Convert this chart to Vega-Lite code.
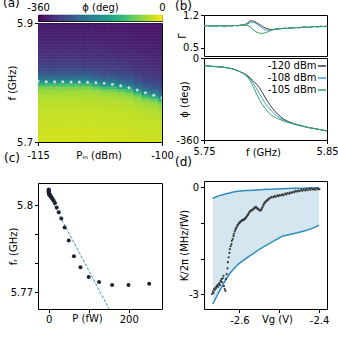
{
"$schema":"https://vega.github.io/schema/vega-lite/v6.json",
"padding":{"left":2,"top":-4,"right":0,"bottom":0},
"background":"white",
"config":{
"font":"DejaVu Sans",
"view":{"stroke":"black","strokeWidth":1},
"axis":{"labelFont":"DejaVu Sans","titleFont":"DejaVu Sans","labelFontSize":10,"titleFontSize":10,"titleFontWeight":"normal","labelColor":"black","titleColor":"black","tickColor":"black","domain":false,"grid":false,"tickSize":3.5,"tickWidth":1,"labelFlush":false,"labelOverlap":false,"labelPadding":2},
"title":{"font":"DejaVu Sans","fontSize":12,"fontWeight":"normal","anchor":"start","frame":"group","color":"black"}
},
"datasets":{
"heat":[
{"p":-115.5,"f":5.7,"v":-24},{"p":-115.5,"f":5.705,"v":-25},{"p":-115.5,"f":5.71,"v":-26},{"p":-115.5,"f":5.715,"v":-26},{"p":-115.5,"f":5.72,"v":-27},{"p":-115.5,"f":5.725,"v":-28},{"p":-115.5,"f":5.73,"v":-29},{"p":-115.5,"f":5.735,"v":-30},{"p":-115.5,"f":5.74,"v":-31},{"p":-115.5,"f":5.745,"v":-32},{"p":-115.5,"f":5.75,"v":-33},{"p":-115.5,"f":5.755,"v":-34},{"p":-115.5,"f":5.76,"v":-36},{"p":-115.5,"f":5.765,"v":-38},{"p":-115.5,"f":5.77,"v":-40},{"p":-115.5,"f":5.775,"v":-43},{"p":-115.5,"f":5.78,"v":-48},{"p":-115.5,"f":5.785,"v":-56},{"p":-115.5,"f":5.79,"v":-72},{"p":-115.5,"f":5.795,"v":-110},{"p":-115.5,"f":5.8,"v":-175},{"p":-115.5,"f":5.805,"v":-218},{"p":-115.5,"f":5.81,"v":-245},{"p":-115.5,"f":5.815,"v":-265},{"p":-115.5,"f":5.82,"v":-280},{"p":-115.5,"f":5.825,"v":-289},{"p":-115.5,"f":5.83,"v":-296},{"p":-115.5,"f":5.835,"v":-302},{"p":-115.5,"f":5.84,"v":-307},{"p":-115.5,"f":5.845,"v":-311},{"p":-115.5,"f":5.85,"v":-315},{"p":-115.5,"f":5.855,"v":-318},{"p":-115.5,"f":5.86,"v":-321},{"p":-115.5,"f":5.865,"v":-323},{"p":-115.5,"f":5.87,"v":-326},{"p":-115.5,"f":5.875,"v":-328},{"p":-115.5,"f":5.88,"v":-330},{"p":-115.5,"f":5.885,"v":-332},{"p":-115.5,"f":5.89,"v":-334},{"p":-115.5,"f":5.895,"v":-336},
{"p":-114.5,"f":5.7,"v":-24},{"p":-114.5,"f":5.705,"v":-25},{"p":-114.5,"f":5.71,"v":-26},{"p":-114.5,"f":5.715,"v":-26},{"p":-114.5,"f":5.72,"v":-27},{"p":-114.5,"f":5.725,"v":-28},{"p":-114.5,"f":5.73,"v":-29},{"p":-114.5,"f":5.735,"v":-30},{"p":-114.5,"f":5.74,"v":-31},{"p":-114.5,"f":5.745,"v":-32},{"p":-114.5,"f":5.75,"v":-33},{"p":-114.5,"f":5.755,"v":-34},{"p":-114.5,"f":5.76,"v":-36},{"p":-114.5,"f":5.765,"v":-38},{"p":-114.5,"f":5.77,"v":-40},{"p":-114.5,"f":5.775,"v":-43},{"p":-114.5,"f":5.78,"v":-48},{"p":-114.5,"f":5.785,"v":-56},{"p":-114.5,"f":5.79,"v":-72},{"p":-114.5,"f":5.795,"v":-110},{"p":-114.5,"f":5.8,"v":-175},{"p":-114.5,"f":5.805,"v":-218},{"p":-114.5,"f":5.81,"v":-245},{"p":-114.5,"f":5.815,"v":-265},{"p":-114.5,"f":5.82,"v":-280},{"p":-114.5,"f":5.825,"v":-289},{"p":-114.5,"f":5.83,"v":-296},{"p":-114.5,"f":5.835,"v":-302},{"p":-114.5,"f":5.84,"v":-307},{"p":-114.5,"f":5.845,"v":-311},{"p":-114.5,"f":5.85,"v":-315},{"p":-114.5,"f":5.855,"v":-318},{"p":-114.5,"f":5.86,"v":-321},{"p":-114.5,"f":5.865,"v":-323},{"p":-114.5,"f":5.87,"v":-326},{"p":-114.5,"f":5.875,"v":-328},{"p":-114.5,"f":5.88,"v":-330},{"p":-114.5,"f":5.885,"v":-332},{"p":-114.5,"f":5.89,"v":-334},{"p":-114.5,"f":5.895,"v":-336},
{"p":-113.5,"f":5.7,"v":-24},{"p":-113.5,"f":5.705,"v":-25},{"p":-113.5,"f":5.71,"v":-26},{"p":-113.5,"f":5.715,"v":-26},{"p":-113.5,"f":5.72,"v":-27},{"p":-113.5,"f":5.725,"v":-28},{"p":-113.5,"f":5.73,"v":-29},{"p":-113.5,"f":5.735,"v":-30},{"p":-113.5,"f":5.74,"v":-31},{"p":-113.5,"f":5.745,"v":-32},{"p":-113.5,"f":5.75,"v":-33},{"p":-113.5,"f":5.755,"v":-34},{"p":-113.5,"f":5.76,"v":-36},{"p":-113.5,"f":5.765,"v":-38},{"p":-113.5,"f":5.77,"v":-40},{"p":-113.5,"f":5.775,"v":-43},{"p":-113.5,"f":5.78,"v":-48},{"p":-113.5,"f":5.785,"v":-56},{"p":-113.5,"f":5.79,"v":-72},{"p":-113.5,"f":5.795,"v":-110},{"p":-113.5,"f":5.8,"v":-175},{"p":-113.5,"f":5.805,"v":-218},{"p":-113.5,"f":5.81,"v":-245},{"p":-113.5,"f":5.815,"v":-265},{"p":-113.5,"f":5.82,"v":-280},{"p":-113.5,"f":5.825,"v":-289},{"p":-113.5,"f":5.83,"v":-296},{"p":-113.5,"f":5.835,"v":-302},{"p":-113.5,"f":5.84,"v":-307},{"p":-113.5,"f":5.845,"v":-311},{"p":-113.5,"f":5.85,"v":-315},{"p":-113.5,"f":5.855,"v":-318},{"p":-113.5,"f":5.86,"v":-321},{"p":-113.5,"f":5.865,"v":-323},{"p":-113.5,"f":5.87,"v":-326},{"p":-113.5,"f":5.875,"v":-328},{"p":-113.5,"f":5.88,"v":-330},{"p":-113.5,"f":5.885,"v":-332},{"p":-113.5,"f":5.89,"v":-334},{"p":-113.5,"f":5.895,"v":-336},
{"p":-112.5,"f":5.7,"v":-24},{"p":-112.5,"f":5.705,"v":-25},{"p":-112.5,"f":5.71,"v":-26},{"p":-112.5,"f":5.715,"v":-26},{"p":-112.5,"f":5.72,"v":-27},{"p":-112.5,"f":5.725,"v":-28},{"p":-112.5,"f":5.73,"v":-29},{"p":-112.5,"f":5.735,"v":-30},{"p":-112.5,"f":5.74,"v":-31},{"p":-112.5,"f":5.745,"v":-32},{"p":-112.5,"f":5.75,"v":-33},{"p":-112.5,"f":5.755,"v":-34},{"p":-112.5,"f":5.76,"v":-36},{"p":-112.5,"f":5.765,"v":-38},{"p":-112.5,"f":5.77,"v":-40},{"p":-112.5,"f":5.775,"v":-43},{"p":-112.5,"f":5.78,"v":-48},{"p":-112.5,"f":5.785,"v":-56},{"p":-112.5,"f":5.79,"v":-72},{"p":-112.5,"f":5.795,"v":-110},{"p":-112.5,"f":5.8,"v":-175},{"p":-112.5,"f":5.805,"v":-218},{"p":-112.5,"f":5.81,"v":-245},{"p":-112.5,"f":5.815,"v":-265},{"p":-112.5,"f":5.82,"v":-280},{"p":-112.5,"f":5.825,"v":-289},{"p":-112.5,"f":5.83,"v":-296},{"p":-112.5,"f":5.835,"v":-302},{"p":-112.5,"f":5.84,"v":-307},{"p":-112.5,"f":5.845,"v":-311},{"p":-112.5,"f":5.85,"v":-315},{"p":-112.5,"f":5.855,"v":-318},{"p":-112.5,"f":5.86,"v":-321},{"p":-112.5,"f":5.865,"v":-323},{"p":-112.5,"f":5.87,"v":-326},{"p":-112.5,"f":5.875,"v":-328},{"p":-112.5,"f":5.88,"v":-330},{"p":-112.5,"f":5.885,"v":-332},{"p":-112.5,"f":5.89,"v":-334},{"p":-112.5,"f":5.895,"v":-336},
{"p":-111.5,"f":5.7,"v":-24},{"p":-111.5,"f":5.705,"v":-25},{"p":-111.5,"f":5.71,"v":-26},{"p":-111.5,"f":5.715,"v":-26},{"p":-111.5,"f":5.72,"v":-27},{"p":-111.5,"f":5.725,"v":-28},{"p":-111.5,"f":5.73,"v":-29},{"p":-111.5,"f":5.735,"v":-30},{"p":-111.5,"f":5.74,"v":-31},{"p":-111.5,"f":5.745,"v":-32},{"p":-111.5,"f":5.75,"v":-33},{"p":-111.5,"f":5.755,"v":-34},{"p":-111.5,"f":5.76,"v":-36},{"p":-111.5,"f":5.765,"v":-38},{"p":-111.5,"f":5.77,"v":-40},{"p":-111.5,"f":5.775,"v":-43},{"p":-111.5,"f":5.78,"v":-48},{"p":-111.5,"f":5.785,"v":-56},{"p":-111.5,"f":5.79,"v":-72},{"p":-111.5,"f":5.795,"v":-110},{"p":-111.5,"f":5.8,"v":-175},{"p":-111.5,"f":5.805,"v":-218},{"p":-111.5,"f":5.81,"v":-245},{"p":-111.5,"f":5.815,"v":-265},{"p":-111.5,"f":5.82,"v":-280},{"p":-111.5,"f":5.825,"v":-289},{"p":-111.5,"f":5.83,"v":-296},{"p":-111.5,"f":5.835,"v":-302},{"p":-111.5,"f":5.84,"v":-307},{"p":-111.5,"f":5.845,"v":-311},{"p":-111.5,"f":5.85,"v":-315},{"p":-111.5,"f":5.855,"v":-318},{"p":-111.5,"f":5.86,"v":-321},{"p":-111.5,"f":5.865,"v":-323},{"p":-111.5,"f":5.87,"v":-326},{"p":-111.5,"f":5.875,"v":-328},{"p":-111.5,"f":5.88,"v":-330},{"p":-111.5,"f":5.885,"v":-332},{"p":-111.5,"f":5.89,"v":-334},{"p":-111.5,"f":5.895,"v":-336},
{"p":-110.5,"f":5.7,"v":-24},{"p":-110.5,"f":5.705,"v":-25},{"p":-110.5,"f":5.71,"v":-26},{"p":-110.5,"f":5.715,"v":-26},{"p":-110.5,"f":5.72,"v":-27},{"p":-110.5,"f":5.725,"v":-28},{"p":-110.5,"f":5.73,"v":-29},{"p":-110.5,"f":5.735,"v":-30},{"p":-110.5,"f":5.74,"v":-31},{"p":-110.5,"f":5.745,"v":-32},{"p":-110.5,"f":5.75,"v":-33},{"p":-110.5,"f":5.755,"v":-34},{"p":-110.5,"f":5.76,"v":-36},{"p":-110.5,"f":5.765,"v":-38},{"p":-110.5,"f":5.77,"v":-40},{"p":-110.5,"f":5.775,"v":-43},{"p":-110.5,"f":5.78,"v":-48},{"p":-110.5,"f":5.785,"v":-56},{"p":-110.5,"f":5.79,"v":-72},{"p":-110.5,"f":5.795,"v":-110},{"p":-110.5,"f":5.8,"v":-175},{"p":-110.5,"f":5.805,"v":-218},{"p":-110.5,"f":5.81,"v":-245},{"p":-110.5,"f":5.815,"v":-265},{"p":-110.5,"f":5.82,"v":-280},{"p":-110.5,"f":5.825,"v":-289},{"p":-110.5,"f":5.83,"v":-296},{"p":-110.5,"f":5.835,"v":-302},{"p":-110.5,"f":5.84,"v":-307},{"p":-110.5,"f":5.845,"v":-311},{"p":-110.5,"f":5.85,"v":-315},{"p":-110.5,"f":5.855,"v":-318},{"p":-110.5,"f":5.86,"v":-321},{"p":-110.5,"f":5.865,"v":-323},{"p":-110.5,"f":5.87,"v":-326},{"p":-110.5,"f":5.875,"v":-328},{"p":-110.5,"f":5.88,"v":-330},{"p":-110.5,"f":5.885,"v":-332},{"p":-110.5,"f":5.89,"v":-334},{"p":-110.5,"f":5.895,"v":-336},
{"p":-109.5,"f":5.7,"v":-24},{"p":-109.5,"f":5.705,"v":-25},{"p":-109.5,"f":5.71,"v":-26},{"p":-109.5,"f":5.715,"v":-26},{"p":-109.5,"f":5.72,"v":-27},{"p":-109.5,"f":5.725,"v":-28},{"p":-109.5,"f":5.73,"v":-29},{"p":-109.5,"f":5.735,"v":-30},{"p":-109.5,"f":5.74,"v":-31},{"p":-109.5,"f":5.745,"v":-32},{"p":-109.5,"f":5.75,"v":-33},{"p":-109.5,"f":5.755,"v":-34},{"p":-109.5,"f":5.76,"v":-36},{"p":-109.5,"f":5.765,"v":-38},{"p":-109.5,"f":5.77,"v":-40},{"p":-109.5,"f":5.775,"v":-43},{"p":-109.5,"f":5.78,"v":-48},{"p":-109.5,"f":5.785,"v":-56},{"p":-109.5,"f":5.79,"v":-72},{"p":-109.5,"f":5.795,"v":-110},{"p":-109.5,"f":5.8,"v":-175},{"p":-109.5,"f":5.805,"v":-218},{"p":-109.5,"f":5.81,"v":-245},{"p":-109.5,"f":5.815,"v":-265},{"p":-109.5,"f":5.82,"v":-280},{"p":-109.5,"f":5.825,"v":-289},{"p":-109.5,"f":5.83,"v":-296},{"p":-109.5,"f":5.835,"v":-302},{"p":-109.5,"f":5.84,"v":-307},{"p":-109.5,"f":5.845,"v":-311},{"p":-109.5,"f":5.85,"v":-315},{"p":-109.5,"f":5.855,"v":-318},{"p":-109.5,"f":5.86,"v":-321},{"p":-109.5,"f":5.865,"v":-323},{"p":-109.5,"f":5.87,"v":-326},{"p":-109.5,"f":5.875,"v":-328},{"p":-109.5,"f":5.88,"v":-330},{"p":-109.5,"f":5.885,"v":-332},{"p":-109.5,"f":5.89,"v":-334},{"p":-109.5,"f":5.895,"v":-336},
{"p":-108.5,"f":5.7,"v":-24},{"p":-108.5,"f":5.705,"v":-25},{"p":-108.5,"f":5.71,"v":-26},{"p":-108.5,"f":5.715,"v":-27},{"p":-108.5,"f":5.72,"v":-27},{"p":-108.5,"f":5.725,"v":-28},{"p":-108.5,"f":5.73,"v":-29},{"p":-108.5,"f":5.735,"v":-30},{"p":-108.5,"f":5.74,"v":-31},{"p":-108.5,"f":5.745,"v":-32},{"p":-108.5,"f":5.75,"v":-33},{"p":-108.5,"f":5.755,"v":-35},{"p":-108.5,"f":5.76,"v":-37},{"p":-108.5,"f":5.765,"v":-39},{"p":-108.5,"f":5.77,"v":-41},{"p":-108.5,"f":5.775,"v":-45},{"p":-108.5,"f":5.78,"v":-52},{"p":-108.5,"f":5.785,"v":-62},{"p":-108.5,"f":5.79,"v":-88},{"p":-108.5,"f":5.795,"v":-140},{"p":-108.5,"f":5.8,"v":-200},{"p":-108.5,"f":5.805,"v":-233},{"p":-108.5,"f":5.81,"v":-256},{"p":-108.5,"f":5.815,"v":-273},{"p":-108.5,"f":5.82,"v":-285},{"p":-108.5,"f":5.825,"v":-293},{"p":-108.5,"f":5.83,"v":-299},{"p":-108.5,"f":5.835,"v":-305},{"p":-108.5,"f":5.84,"v":-309},{"p":-108.5,"f":5.845,"v":-313},{"p":-108.5,"f":5.85,"v":-316},{"p":-108.5,"f":5.855,"v":-319},{"p":-108.5,"f":5.86,"v":-322},{"p":-108.5,"f":5.865,"v":-325},{"p":-108.5,"f":5.87,"v":-327},{"p":-108.5,"f":5.875,"v":-329},{"p":-108.5,"f":5.88,"v":-331},{"p":-108.5,"f":5.885,"v":-333},{"p":-108.5,"f":5.89,"v":-335},{"p":-108.5,"f":5.895,"v":-336},
{"p":-107.5,"f":5.7,"v":-25},{"p":-107.5,"f":5.705,"v":-26},{"p":-107.5,"f":5.71,"v":-26},{"p":-107.5,"f":5.715,"v":-27},{"p":-107.5,"f":5.72,"v":-28},{"p":-107.5,"f":5.725,"v":-29},{"p":-107.5,"f":5.73,"v":-30},{"p":-107.5,"f":5.735,"v":-31},{"p":-107.5,"f":5.74,"v":-32},{"p":-107.5,"f":5.745,"v":-33},{"p":-107.5,"f":5.75,"v":-34},{"p":-107.5,"f":5.755,"v":-36},{"p":-107.5,"f":5.76,"v":-38},{"p":-107.5,"f":5.765,"v":-40},{"p":-107.5,"f":5.77,"v":-43},{"p":-107.5,"f":5.775,"v":-48},{"p":-107.5,"f":5.78,"v":-56},{"p":-107.5,"f":5.785,"v":-72},{"p":-107.5,"f":5.79,"v":-110},{"p":-107.5,"f":5.795,"v":-175},{"p":-107.5,"f":5.8,"v":-218},{"p":-107.5,"f":5.805,"v":-245},{"p":-107.5,"f":5.81,"v":-265},{"p":-107.5,"f":5.815,"v":-280},{"p":-107.5,"f":5.82,"v":-289},{"p":-107.5,"f":5.825,"v":-296},{"p":-107.5,"f":5.83,"v":-302},{"p":-107.5,"f":5.835,"v":-307},{"p":-107.5,"f":5.84,"v":-311},{"p":-107.5,"f":5.845,"v":-315},{"p":-107.5,"f":5.85,"v":-318},{"p":-107.5,"f":5.855,"v":-321},{"p":-107.5,"f":5.86,"v":-323},{"p":-107.5,"f":5.865,"v":-326},{"p":-107.5,"f":5.87,"v":-328},{"p":-107.5,"f":5.875,"v":-330},{"p":-107.5,"f":5.88,"v":-332},{"p":-107.5,"f":5.885,"v":-334},{"p":-107.5,"f":5.89,"v":-336},{"p":-107.5,"f":5.895,"v":-337},
{"p":-106.5,"f":5.7,"v":-25},{"p":-106.5,"f":5.705,"v":-26},{"p":-106.5,"f":5.71,"v":-26},{"p":-106.5,"f":5.715,"v":-27},{"p":-106.5,"f":5.72,"v":-28},{"p":-106.5,"f":5.725,"v":-29},{"p":-106.5,"f":5.73,"v":-30},{"p":-106.5,"f":5.735,"v":-31},{"p":-106.5,"f":5.74,"v":-32},{"p":-106.5,"f":5.745,"v":-33},{"p":-106.5,"f":5.75,"v":-34},{"p":-106.5,"f":5.755,"v":-36},{"p":-106.5,"f":5.76,"v":-38},{"p":-106.5,"f":5.765,"v":-40},{"p":-106.5,"f":5.77,"v":-43},{"p":-106.5,"f":5.775,"v":-48},{"p":-106.5,"f":5.78,"v":-56},{"p":-106.5,"f":5.785,"v":-72},{"p":-106.5,"f":5.79,"v":-110},{"p":-106.5,"f":5.795,"v":-175},{"p":-106.5,"f":5.8,"v":-218},{"p":-106.5,"f":5.805,"v":-245},{"p":-106.5,"f":5.81,"v":-265},{"p":-106.5,"f":5.815,"v":-280},{"p":-106.5,"f":5.82,"v":-289},{"p":-106.5,"f":5.825,"v":-296},{"p":-106.5,"f":5.83,"v":-302},{"p":-106.5,"f":5.835,"v":-307},{"p":-106.5,"f":5.84,"v":-311},{"p":-106.5,"f":5.845,"v":-315},{"p":-106.5,"f":5.85,"v":-318},{"p":-106.5,"f":5.855,"v":-321},{"p":-106.5,"f":5.86,"v":-323},{"p":-106.5,"f":5.865,"v":-326},{"p":-106.5,"f":5.87,"v":-328},{"p":-106.5,"f":5.875,"v":-330},{"p":-106.5,"f":5.88,"v":-332},{"p":-106.5,"f":5.885,"v":-334},{"p":-106.5,"f":5.89,"v":-336},{"p":-106.5,"f":5.895,"v":-337},
{"p":-105.5,"f":5.7,"v":-25},{"p":-105.5,"f":5.705,"v":-26},{"p":-105.5,"f":5.71,"v":-27},{"p":-105.5,"f":5.715,"v":-27},{"p":-105.5,"f":5.72,"v":-28},{"p":-105.5,"f":5.725,"v":-29},{"p":-105.5,"f":5.73,"v":-30},{"p":-105.5,"f":5.735,"v":-31},{"p":-105.5,"f":5.74,"v":-32},{"p":-105.5,"f":5.745,"v":-33},{"p":-105.5,"f":5.75,"v":-35},{"p":-105.5,"f":5.755,"v":-37},{"p":-105.5,"f":5.76,"v":-39},{"p":-105.5,"f":5.765,"v":-41},{"p":-105.5,"f":5.77,"v":-45},{"p":-105.5,"f":5.775,"v":-52},{"p":-105.5,"f":5.78,"v":-62},{"p":-105.5,"f":5.785,"v":-88},{"p":-105.5,"f":5.79,"v":-140},{"p":-105.5,"f":5.795,"v":-200},{"p":-105.5,"f":5.8,"v":-233},{"p":-105.5,"f":5.805,"v":-256},{"p":-105.5,"f":5.81,"v":-273},{"p":-105.5,"f":5.815,"v":-285},{"p":-105.5,"f":5.82,"v":-293},{"p":-105.5,"f":5.825,"v":-299},{"p":-105.5,"f":5.83,"v":-305},{"p":-105.5,"f":5.835,"v":-309},{"p":-105.5,"f":5.84,"v":-313},{"p":-105.5,"f":5.845,"v":-316},{"p":-105.5,"f":5.85,"v":-319},{"p":-105.5,"f":5.855,"v":-322},{"p":-105.5,"f":5.86,"v":-325},{"p":-105.5,"f":5.865,"v":-327},{"p":-105.5,"f":5.87,"v":-329},{"p":-105.5,"f":5.875,"v":-331},{"p":-105.5,"f":5.88,"v":-333},{"p":-105.5,"f":5.885,"v":-335},{"p":-105.5,"f":5.89,"v":-336},{"p":-105.5,"f":5.895,"v":-338},
{"p":-104.5,"f":5.7,"v":-26},{"p":-104.5,"f":5.705,"v":-26},{"p":-104.5,"f":5.71,"v":-27},{"p":-104.5,"f":5.715,"v":-28},{"p":-104.5,"f":5.72,"v":-29},{"p":-104.5,"f":5.725,"v":-30},{"p":-104.5,"f":5.73,"v":-31},{"p":-104.5,"f":5.735,"v":-32},{"p":-104.5,"f":5.74,"v":-33},{"p":-104.5,"f":5.745,"v":-34},{"p":-104.5,"f":5.75,"v":-36},{"p":-104.5,"f":5.755,"v":-38},{"p":-104.5,"f":5.76,"v":-40},{"p":-104.5,"f":5.765,"v":-43},{"p":-104.5,"f":5.77,"v":-48},{"p":-104.5,"f":5.775,"v":-56},{"p":-104.5,"f":5.78,"v":-72},{"p":-104.5,"f":5.785,"v":-110},{"p":-104.5,"f":5.79,"v":-175},{"p":-104.5,"f":5.795,"v":-218},{"p":-104.5,"f":5.8,"v":-245},{"p":-104.5,"f":5.805,"v":-265},{"p":-104.5,"f":5.81,"v":-280},{"p":-104.5,"f":5.815,"v":-289},{"p":-104.5,"f":5.82,"v":-296},{"p":-104.5,"f":5.825,"v":-302},{"p":-104.5,"f":5.83,"v":-307},{"p":-104.5,"f":5.835,"v":-311},{"p":-104.5,"f":5.84,"v":-315},{"p":-104.5,"f":5.845,"v":-318},{"p":-104.5,"f":5.85,"v":-321},{"p":-104.5,"f":5.855,"v":-323},{"p":-104.5,"f":5.86,"v":-326},{"p":-104.5,"f":5.865,"v":-328},{"p":-104.5,"f":5.87,"v":-330},{"p":-104.5,"f":5.875,"v":-332},{"p":-104.5,"f":5.88,"v":-334},{"p":-104.5,"f":5.885,"v":-336},{"p":-104.5,"f":5.89,"v":-337},{"p":-104.5,"f":5.895,"v":-338},
{"p":-103.5,"f":5.7,"v":-26},{"p":-103.5,"f":5.705,"v":-27},{"p":-103.5,"f":5.71,"v":-28},{"p":-103.5,"f":5.715,"v":-29},{"p":-103.5,"f":5.72,"v":-30},{"p":-103.5,"f":5.725,"v":-31},{"p":-103.5,"f":5.73,"v":-32},{"p":-103.5,"f":5.735,"v":-33},{"p":-103.5,"f":5.74,"v":-34},{"p":-103.5,"f":5.745,"v":-36},{"p":-103.5,"f":5.75,"v":-38},{"p":-103.5,"f":5.755,"v":-40},{"p":-103.5,"f":5.76,"v":-43},{"p":-103.5,"f":5.765,"v":-48},{"p":-103.5,"f":5.77,"v":-56},{"p":-103.5,"f":5.775,"v":-72},{"p":-103.5,"f":5.78,"v":-110},{"p":-103.5,"f":5.785,"v":-175},{"p":-103.5,"f":5.79,"v":-218},{"p":-103.5,"f":5.795,"v":-245},{"p":-103.5,"f":5.8,"v":-265},{"p":-103.5,"f":5.805,"v":-280},{"p":-103.5,"f":5.81,"v":-289},{"p":-103.5,"f":5.815,"v":-296},{"p":-103.5,"f":5.82,"v":-302},{"p":-103.5,"f":5.825,"v":-307},{"p":-103.5,"f":5.83,"v":-311},{"p":-103.5,"f":5.835,"v":-315},{"p":-103.5,"f":5.84,"v":-318},{"p":-103.5,"f":5.845,"v":-321},{"p":-103.5,"f":5.85,"v":-323},{"p":-103.5,"f":5.855,"v":-326},{"p":-103.5,"f":5.86,"v":-328},{"p":-103.5,"f":5.865,"v":-330},{"p":-103.5,"f":5.87,"v":-332},{"p":-103.5,"f":5.875,"v":-334},{"p":-103.5,"f":5.88,"v":-336},{"p":-103.5,"f":5.885,"v":-337},{"p":-103.5,"f":5.89,"v":-338},{"p":-103.5,"f":5.895,"v":-339},
{"p":-102.5,"f":5.7,"v":-27},{"p":-102.5,"f":5.705,"v":-28},{"p":-102.5,"f":5.71,"v":-29},{"p":-102.5,"f":5.715,"v":-30},{"p":-102.5,"f":5.72,"v":-31},{"p":-102.5,"f":5.725,"v":-32},{"p":-102.5,"f":5.73,"v":-33},{"p":-102.5,"f":5.735,"v":-34},{"p":-102.5,"f":5.74,"v":-36},{"p":-102.5,"f":5.745,"v":-38},{"p":-102.5,"f":5.75,"v":-40},{"p":-102.5,"f":5.755,"v":-43},{"p":-102.5,"f":5.76,"v":-48},{"p":-102.5,"f":5.765,"v":-56},{"p":-102.5,"f":5.77,"v":-72},{"p":-102.5,"f":5.775,"v":-110},{"p":-102.5,"f":5.78,"v":-175},{"p":-102.5,"f":5.785,"v":-218},{"p":-102.5,"f":5.79,"v":-245},{"p":-102.5,"f":5.795,"v":-265},{"p":-102.5,"f":5.8,"v":-280},{"p":-102.5,"f":5.805,"v":-289},{"p":-102.5,"f":5.81,"v":-296},{"p":-102.5,"f":5.815,"v":-302},{"p":-102.5,"f":5.82,"v":-307},{"p":-102.5,"f":5.825,"v":-311},{"p":-102.5,"f":5.83,"v":-315},{"p":-102.5,"f":5.835,"v":-318},{"p":-102.5,"f":5.84,"v":-321},{"p":-102.5,"f":5.845,"v":-323},{"p":-102.5,"f":5.85,"v":-326},{"p":-102.5,"f":5.855,"v":-328},{"p":-102.5,"f":5.86,"v":-330},{"p":-102.5,"f":5.865,"v":-332},{"p":-102.5,"f":5.87,"v":-334},{"p":-102.5,"f":5.875,"v":-336},{"p":-102.5,"f":5.88,"v":-337},{"p":-102.5,"f":5.885,"v":-338},{"p":-102.5,"f":5.89,"v":-339},{"p":-102.5,"f":5.895,"v":-340},
{"p":-101.5,"f":5.7,"v":-27},{"p":-101.5,"f":5.705,"v":-28},{"p":-101.5,"f":5.71,"v":-29},{"p":-101.5,"f":5.715,"v":-30},{"p":-101.5,"f":5.72,"v":-31},{"p":-101.5,"f":5.725,"v":-32},{"p":-101.5,"f":5.73,"v":-33},{"p":-101.5,"f":5.735,"v":-35},{"p":-101.5,"f":5.74,"v":-37},{"p":-101.5,"f":5.745,"v":-39},{"p":-101.5,"f":5.75,"v":-41},{"p":-101.5,"f":5.755,"v":-45},{"p":-101.5,"f":5.76,"v":-52},{"p":-101.5,"f":5.765,"v":-62},{"p":-101.5,"f":5.77,"v":-88},{"p":-101.5,"f":5.775,"v":-140},{"p":-101.5,"f":5.78,"v":-200},{"p":-101.5,"f":5.785,"v":-233},{"p":-101.5,"f":5.79,"v":-256},{"p":-101.5,"f":5.795,"v":-273},{"p":-101.5,"f":5.8,"v":-285},{"p":-101.5,"f":5.805,"v":-293},{"p":-101.5,"f":5.81,"v":-299},{"p":-101.5,"f":5.815,"v":-305},{"p":-101.5,"f":5.82,"v":-309},{"p":-101.5,"f":5.825,"v":-313},{"p":-101.5,"f":5.83,"v":-316},{"p":-101.5,"f":5.835,"v":-319},{"p":-101.5,"f":5.84,"v":-322},{"p":-101.5,"f":5.845,"v":-325},{"p":-101.5,"f":5.85,"v":-327},{"p":-101.5,"f":5.855,"v":-329},{"p":-101.5,"f":5.86,"v":-331},{"p":-101.5,"f":5.865,"v":-333},{"p":-101.5,"f":5.87,"v":-335},{"p":-101.5,"f":5.875,"v":-336},{"p":-101.5,"f":5.88,"v":-338},{"p":-101.5,"f":5.885,"v":-339},{"p":-101.5,"f":5.89,"v":-340},{"p":-101.5,"f":5.895,"v":-341},
{"p":-100.5,"f":5.7,"v":-28},{"p":-100.5,"f":5.705,"v":-29},{"p":-100.5,"f":5.71,"v":-30},{"p":-100.5,"f":5.715,"v":-31},{"p":-100.5,"f":5.72,"v":-32},{"p":-100.5,"f":5.725,"v":-33},{"p":-100.5,"f":5.73,"v":-35},{"p":-100.5,"f":5.735,"v":-37},{"p":-100.5,"f":5.74,"v":-39},{"p":-100.5,"f":5.745,"v":-41},{"p":-100.5,"f":5.75,"v":-45},{"p":-100.5,"f":5.755,"v":-52},{"p":-100.5,"f":5.76,"v":-62},{"p":-100.5,"f":5.765,"v":-88},{"p":-100.5,"f":5.77,"v":-140},{"p":-100.5,"f":5.775,"v":-200},{"p":-100.5,"f":5.78,"v":-233},{"p":-100.5,"f":5.785,"v":-256},{"p":-100.5,"f":5.79,"v":-273},{"p":-100.5,"f":5.795,"v":-285},{"p":-100.5,"f":5.8,"v":-293},{"p":-100.5,"f":5.805,"v":-299},{"p":-100.5,"f":5.81,"v":-305},{"p":-100.5,"f":5.815,"v":-309},{"p":-100.5,"f":5.82,"v":-313},{"p":-100.5,"f":5.825,"v":-316},{"p":-100.5,"f":5.83,"v":-319},{"p":-100.5,"f":5.835,"v":-322},{"p":-100.5,"f":5.84,"v":-325},{"p":-100.5,"f":5.845,"v":-327},{"p":-100.5,"f":5.85,"v":-329},{"p":-100.5,"f":5.855,"v":-331},{"p":-100.5,"f":5.86,"v":-333},{"p":-100.5,"f":5.865,"v":-335},{"p":-100.5,"f":5.87,"v":-336},{"p":-100.5,"f":5.875,"v":-338},{"p":-100.5,"f":5.88,"v":-339},{"p":-100.5,"f":5.885,"v":-340},{"p":-100.5,"f":5.89,"v":-341},{"p":-100.5,"f":5.895,"v":-341}
],
"dots":[{"p":-115,"fr":5.8019},{"p":-114,"fr":5.8014},{"p":-113,"fr":5.8014},{"p":-112,"fr":5.8014},{"p":-111,"fr":5.8008},{"p":-110,"fr":5.8008},{"p":-109,"fr":5.8003},{"p":-108,"fr":5.7997},{"p":-107,"fr":5.7986},{"p":-106,"fr":5.7969},{"p":-105,"fr":5.7946},{"p":-104,"fr":5.7913},{"p":-103,"fr":5.7874},{"p":-102,"fr":5.7829},{"p":-101,"fr":5.7785},{"p":-100,"fr":5.7745}],
"cbar":[{"c":-360},{"c":-355},{"c":-350},{"c":-345},{"c":-340},{"c":-335},{"c":-330},{"c":-325},{"c":-320},{"c":-315},{"c":-310},{"c":-305},{"c":-300},{"c":-295},{"c":-290},{"c":-285},{"c":-280},{"c":-275},{"c":-270},{"c":-265},{"c":-260},{"c":-255},{"c":-250},{"c":-245},{"c":-240},{"c":-235},{"c":-230},{"c":-225},{"c":-220},{"c":-215},{"c":-210},{"c":-205},{"c":-200},{"c":-195},{"c":-190},{"c":-185},{"c":-180},{"c":-175},{"c":-170},{"c":-165},{"c":-160},{"c":-155},{"c":-150},{"c":-145},{"c":-140},{"c":-135},{"c":-130},{"c":-125},{"c":-120},{"c":-115},{"c":-110},{"c":-105},{"c":-100},{"c":-95},{"c":-90},{"c":-85},{"c":-80},{"c":-75},{"c":-70},{"c":-65},{"c":-60},{"c":-55},{"c":-50},{"c":-45},{"c":-40},{"c":-35},{"c":-30},{"c":-25},{"c":-20},{"c":-15},{"c":-10},{"c":-5}],
"gam":[
{"s":"-120 dBm","f":5.75,"g":0.97},{"s":"-120 dBm","f":5.7525,"g":0.975},{"s":"-120 dBm","f":5.755,"g":0.965},{"s":"-120 dBm","f":5.7575,"g":0.972},{"s":"-120 dBm","f":5.76,"g":0.962},{"s":"-120 dBm","f":5.7625,"g":0.975},{"s":"-120 dBm","f":5.765,"g":0.968},{"s":"-120 dBm","f":5.7675,"g":0.963},{"s":"-120 dBm","f":5.77,"g":0.975},{"s":"-120 dBm","f":5.7725,"g":0.968},{"s":"-120 dBm","f":5.775,"g":0.978},{"s":"-120 dBm","f":5.7775,"g":0.972},{"s":"-120 dBm","f":5.78,"g":0.985},{"s":"-120 dBm","f":5.7825,"g":0.99},
{"s":"-120 dBm","f":5.785,"g":1.02},{"s":"-120 dBm","f":5.7875,"g":1.08},{"s":"-120 dBm","f":5.79,"g":1.07},{"s":"-120 dBm","f":5.7925,"g":1.04},{"s":"-120 dBm","f":5.795,"g":1.0},{"s":"-120 dBm","f":5.7975,"g":0.96},{"s":"-120 dBm","f":5.8,"g":0.925},{"s":"-120 dBm","f":5.8025,"g":0.9},{"s":"-120 dBm","f":5.805,"g":0.89},{"s":"-120 dBm","f":5.8075,"g":0.895},
{"s":"-120 dBm","f":5.81,"g":0.905},{"s":"-120 dBm","f":5.8125,"g":0.91},{"s":"-120 dBm","f":5.815,"g":0.918},{"s":"-120 dBm","f":5.8175,"g":0.915},{"s":"-120 dBm","f":5.82,"g":0.925},{"s":"-120 dBm","f":5.8225,"g":0.928},{"s":"-120 dBm","f":5.825,"g":0.935},{"s":"-120 dBm","f":5.8275,"g":0.93},{"s":"-120 dBm","f":5.83,"g":0.94},{"s":"-120 dBm","f":5.8325,"g":0.945},{"s":"-120 dBm","f":5.835,"g":0.938},{"s":"-120 dBm","f":5.8375,"g":0.95},{"s":"-120 dBm","f":5.84,"g":0.955},{"s":"-120 dBm","f":5.8425,"g":0.948},{"s":"-120 dBm","f":5.845,"g":0.96},{"s":"-120 dBm","f":5.8475,"g":0.955},{"s":"-120 dBm","f":5.85,"g":0.962},
{"s":"-108 dBm","f":5.75,"g":0.97},{"s":"-108 dBm","f":5.7525,"g":0.975},{"s":"-108 dBm","f":5.755,"g":0.965},{"s":"-108 dBm","f":5.7575,"g":0.972},{"s":"-108 dBm","f":5.76,"g":0.962},{"s":"-108 dBm","f":5.7625,"g":0.975},{"s":"-108 dBm","f":5.765,"g":0.968},{"s":"-108 dBm","f":5.7675,"g":0.963},{"s":"-108 dBm","f":5.77,"g":0.975},{"s":"-108 dBm","f":5.7725,"g":0.968},{"s":"-108 dBm","f":5.775,"g":0.978},{"s":"-108 dBm","f":5.7775,"g":0.972},{"s":"-108 dBm","f":5.78,"g":0.985},{"s":"-108 dBm","f":5.7825,"g":0.99},
{"s":"-108 dBm","f":5.785,"g":1.0},{"s":"-108 dBm","f":5.7875,"g":1.04},{"s":"-108 dBm","f":5.79,"g":1.05},{"s":"-108 dBm","f":5.7925,"g":1.02},{"s":"-108 dBm","f":5.795,"g":0.97},{"s":"-108 dBm","f":5.7975,"g":0.92},{"s":"-108 dBm","f":5.8,"g":0.885},{"s":"-108 dBm","f":5.8025,"g":0.875},{"s":"-108 dBm","f":5.805,"g":0.88},{"s":"-108 dBm","f":5.8075,"g":0.895},
{"s":"-108 dBm","f":5.81,"g":0.905},{"s":"-108 dBm","f":5.8125,"g":0.91},{"s":"-108 dBm","f":5.815,"g":0.918},{"s":"-108 dBm","f":5.8175,"g":0.915},{"s":"-108 dBm","f":5.82,"g":0.925},{"s":"-108 dBm","f":5.8225,"g":0.928},{"s":"-108 dBm","f":5.825,"g":0.935},{"s":"-108 dBm","f":5.8275,"g":0.93},{"s":"-108 dBm","f":5.83,"g":0.94},{"s":"-108 dBm","f":5.8325,"g":0.945},{"s":"-108 dBm","f":5.835,"g":0.938},{"s":"-108 dBm","f":5.8375,"g":0.95},{"s":"-108 dBm","f":5.84,"g":0.955},{"s":"-108 dBm","f":5.8425,"g":0.948},{"s":"-108 dBm","f":5.845,"g":0.96},{"s":"-108 dBm","f":5.8475,"g":0.955},{"s":"-108 dBm","f":5.85,"g":0.962},
{"s":"-105 dBm","f":5.75,"g":0.97},{"s":"-105 dBm","f":5.7525,"g":0.975},{"s":"-105 dBm","f":5.755,"g":0.965},{"s":"-105 dBm","f":5.7575,"g":0.972},{"s":"-105 dBm","f":5.76,"g":0.962},{"s":"-105 dBm","f":5.7625,"g":0.975},{"s":"-105 dBm","f":5.765,"g":0.968},{"s":"-105 dBm","f":5.7675,"g":0.963},{"s":"-105 dBm","f":5.77,"g":0.975},{"s":"-105 dBm","f":5.7725,"g":0.968},{"s":"-105 dBm","f":5.775,"g":0.978},{"s":"-105 dBm","f":5.7775,"g":0.972},{"s":"-105 dBm","f":5.78,"g":0.985},{"s":"-105 dBm","f":5.7825,"g":0.99},
{"s":"-105 dBm","f":5.785,"g":0.98},{"s":"-105 dBm","f":5.7875,"g":0.95},{"s":"-105 dBm","f":5.79,"g":0.89},{"s":"-105 dBm","f":5.7925,"g":0.84},{"s":"-105 dBm","f":5.795,"g":0.815},{"s":"-105 dBm","f":5.7975,"g":0.81},{"s":"-105 dBm","f":5.8,"g":0.825},{"s":"-105 dBm","f":5.8025,"g":0.85},{"s":"-105 dBm","f":5.805,"g":0.88},{"s":"-105 dBm","f":5.8075,"g":0.9},
{"s":"-105 dBm","f":5.81,"g":0.905},{"s":"-105 dBm","f":5.8125,"g":0.91},{"s":"-105 dBm","f":5.815,"g":0.918},{"s":"-105 dBm","f":5.8175,"g":0.915},{"s":"-105 dBm","f":5.82,"g":0.925},{"s":"-105 dBm","f":5.8225,"g":0.928},{"s":"-105 dBm","f":5.825,"g":0.935},{"s":"-105 dBm","f":5.8275,"g":0.93},{"s":"-105 dBm","f":5.83,"g":0.94},{"s":"-105 dBm","f":5.8325,"g":0.945},{"s":"-105 dBm","f":5.835,"g":0.938},{"s":"-105 dBm","f":5.8375,"g":0.95},{"s":"-105 dBm","f":5.84,"g":0.955},{"s":"-105 dBm","f":5.8425,"g":0.948},{"s":"-105 dBm","f":5.845,"g":0.96},{"s":"-105 dBm","f":5.8475,"g":0.955},{"s":"-105 dBm","f":5.85,"g":0.962}
],
"phi":[
{"s":"-120 dBm","f":5.75,"ph":-33},{"s":"-120 dBm","f":5.755,"ph":-36},{"s":"-120 dBm","f":5.76,"ph":-38},{"s":"-120 dBm","f":5.765,"ph":-40},{"s":"-120 dBm","f":5.77,"ph":-44},{"s":"-120 dBm","f":5.775,"ph":-51},{"s":"-120 dBm","f":5.78,"ph":-62},{"s":"-120 dBm","f":5.7825,"ph":-68},{"s":"-120 dBm","f":5.785,"ph":-76},{"s":"-120 dBm","f":5.7875,"ph":-87},{"s":"-120 dBm","f":5.79,"ph":-100},{"s":"-120 dBm","f":5.7925,"ph":-114},{"s":"-120 dBm","f":5.795,"ph":-130},{"s":"-120 dBm","f":5.7975,"ph":-152},{"s":"-120 dBm","f":5.8,"ph":-175},{"s":"-120 dBm","f":5.8025,"ph":-197},{"s":"-120 dBm","f":5.805,"ph":-216},{"s":"-120 dBm","f":5.8075,"ph":-233},{"s":"-120 dBm","f":5.81,"ph":-247},{"s":"-120 dBm","f":5.8125,"ph":-259},{"s":"-120 dBm","f":5.815,"ph":-269},{"s":"-120 dBm","f":5.82,"ph":-282},{"s":"-120 dBm","f":5.825,"ph":-291},{"s":"-120 dBm","f":5.83,"ph":-298},{"s":"-120 dBm","f":5.835,"ph":-305},{"s":"-120 dBm","f":5.84,"ph":-310},{"s":"-120 dBm","f":5.845,"ph":-315},{"s":"-120 dBm","f":5.85,"ph":-320},
{"s":"-108 dBm","f":5.75,"ph":-33},{"s":"-108 dBm","f":5.755,"ph":-36},{"s":"-108 dBm","f":5.76,"ph":-38},{"s":"-108 dBm","f":5.765,"ph":-40},{"s":"-108 dBm","f":5.77,"ph":-44},{"s":"-108 dBm","f":5.775,"ph":-51},{"s":"-108 dBm","f":5.78,"ph":-62},{"s":"-108 dBm","f":5.7825,"ph":-69},{"s":"-108 dBm","f":5.785,"ph":-79},{"s":"-108 dBm","f":5.7875,"ph":-93},{"s":"-108 dBm","f":5.79,"ph":-110},{"s":"-108 dBm","f":5.7925,"ph":-132},{"s":"-108 dBm","f":5.795,"ph":-155},{"s":"-108 dBm","f":5.7975,"ph":-179},{"s":"-108 dBm","f":5.8,"ph":-200},{"s":"-108 dBm","f":5.8025,"ph":-218},{"s":"-108 dBm","f":5.805,"ph":-233},{"s":"-108 dBm","f":5.8075,"ph":-246},{"s":"-108 dBm","f":5.81,"ph":-257},{"s":"-108 dBm","f":5.815,"ph":-273},{"s":"-108 dBm","f":5.82,"ph":-284},{"s":"-108 dBm","f":5.825,"ph":-292},{"s":"-108 dBm","f":5.83,"ph":-299},{"s":"-108 dBm","f":5.835,"ph":-305},{"s":"-108 dBm","f":5.84,"ph":-310},{"s":"-108 dBm","f":5.845,"ph":-315},{"s":"-108 dBm","f":5.85,"ph":-320},
{"s":"-105 dBm","f":5.75,"ph":-33},{"s":"-105 dBm","f":5.755,"ph":-36},{"s":"-105 dBm","f":5.76,"ph":-38},{"s":"-105 dBm","f":5.765,"ph":-40},{"s":"-105 dBm","f":5.77,"ph":-44},{"s":"-105 dBm","f":5.775,"ph":-51},{"s":"-105 dBm","f":5.78,"ph":-63},{"s":"-105 dBm","f":5.7825,"ph":-70},{"s":"-105 dBm","f":5.785,"ph":-82},{"s":"-105 dBm","f":5.7875,"ph":-100},{"s":"-105 dBm","f":5.79,"ph":-125},{"s":"-105 dBm","f":5.7925,"ph":-155},{"s":"-105 dBm","f":5.795,"ph":-182},{"s":"-105 dBm","f":5.7975,"ph":-205},{"s":"-105 dBm","f":5.8,"ph":-224},{"s":"-105 dBm","f":5.8025,"ph":-240},{"s":"-105 dBm","f":5.805,"ph":-252},{"s":"-105 dBm","f":5.81,"ph":-266},{"s":"-105 dBm","f":5.815,"ph":-277},{"s":"-105 dBm","f":5.82,"ph":-286},{"s":"-105 dBm","f":5.825,"ph":-293},{"s":"-105 dBm","f":5.83,"ph":-300},{"s":"-105 dBm","f":5.835,"ph":-306},{"s":"-105 dBm","f":5.84,"ph":-311},{"s":"-105 dBm","f":5.845,"ph":-315},{"s":"-105 dBm","f":5.85,"ph":-320}
],
"frp":[{"P":0.1,"f":5.8055},{"P":0.13,"f":5.8053},{"P":0.16,"f":5.8051},{"P":0.2,"f":5.8049},{"P":0.25,"f":5.8047},{"P":0.32,"f":5.8046},{"P":0.4,"f":5.8044},{"P":0.5,"f":5.8043},{"P":0.63,"f":5.8042},{"P":0.79,"f":5.8041},{"P":1.0,"f":5.804},{"P":1.26,"f":5.8039},{"P":1.58,"f":5.8038},{"P":2.0,"f":5.8037},{"P":2.51,"f":5.8036},{"P":3.16,"f":5.8035},{"P":3.98,"f":5.8033},{"P":5.01,"f":5.8031},{"P":6.31,"f":5.8028},{"P":7.94,"f":5.8025},{"P":10.0,"f":5.8021},{"P":12.6,"f":5.8016},{"P":15.8,"f":5.8008},{"P":20.0,"f":5.7993},{"P":25.1,"f":5.7976},{"P":31.6,"f":5.7955},{"P":39.8,"f":5.7924},{"P":50.1,"f":5.7879},{"P":63.1,"f":5.7825},{"P":79.4,"f":5.7787},{"P":100,"f":5.7753},{"P":125.9,"f":5.7736},{"P":158.5,"f":5.7726},{"P":199.5,"f":5.7726},{"P":251.2,"f":5.773}],
"fit":[{"P":-4,"f":5.8046},{"P":160,"f":5.762}],
"band":[{"V":-2.667,"hi":-0.31,"lo":-3.27},{"V":-2.654,"hi":-0.25,"lo":-2.99},{"V":-2.642,"hi":-0.21,"lo":-2.74},{"V":-2.625,"hi":-0.16,"lo":-2.43},{"V":-2.608,"hi":-0.12,"lo":-2.21},{"V":-2.583,"hi":-0.09,"lo":-1.99},{"V":-2.558,"hi":-0.076,"lo":-1.8},{"V":-2.533,"hi":-0.057,"lo":-1.63},{"V":-2.508,"hi":-0.048,"lo":-1.47},{"V":-2.492,"hi":-0.04,"lo":-1.37},{"V":-2.467,"hi":-0.03,"lo":-1.31},{"V":-2.442,"hi":-0.024,"lo":-1.24},{"V":-2.417,"hi":-0.02,"lo":-1.15},{"V":-2.4,"hi":-0.01,"lo":-1.06}],
"kerr":[{"V":-2.669,"K":-2.99},{"V":-2.667,"K":-2.92},{"V":-2.665,"K":-2.96},{"V":-2.664,"K":-2.85},{"V":-2.662,"K":-2.88},{"V":-2.66,"K":-2.81},{"V":-2.659,"K":-2.83},{"V":-2.657,"K":-2.77},{"V":-2.655,"K":-2.74},{"V":-2.654,"K":-2.79},{"V":-2.652,"K":-2.71},{"V":-2.65,"K":-2.68},{"V":-2.649,"K":-2.74},{"V":-2.647,"K":-2.62},{"V":-2.645,"K":-2.57},{"V":-2.644,"K":-2.66},{"V":-2.642,"K":-2.55},{"V":-2.64,"K":-2.48},{"V":-2.639,"K":-2.77},{"V":-2.637,"K":-2.85},{"V":-2.635,"K":-2.9},{"V":-2.634,"K":-2.57},{"V":-2.632,"K":-2.43},{"V":-2.63,"K":-2.27},{"V":-2.629,"K":-2.1},{"V":-2.627,"K":-1.96},{"V":-2.625,"K":-1.84},{"V":-2.624,"K":-1.73},{"V":-2.622,"K":-1.65},{"V":-2.62,"K":-1.59},{"V":-2.619,"K":-1.5},{"V":-2.617,"K":-1.45},{"V":-2.615,"K":-1.37},{"V":-2.614,"K":-1.31},{"V":-2.612,"K":-1.24},{"V":-2.61,"K":-1.19},{"V":-2.609,"K":-1.15},{"V":-2.607,"K":-1.12},{"V":-2.605,"K":-1.07},{"V":-2.604,"K":-1.06},{"V":-2.602,"K":-1.02},{"V":-2.6,"K":-1.0},{"V":-2.599,"K":-0.98},{"V":-2.597,"K":-0.96},{"V":-2.595,"K":-0.94},{"V":-2.594,"K":-0.93},{"V":-2.592,"K":-0.93},{"V":-2.59,"K":-0.91},{"V":-2.589,"K":-0.89},{"V":-2.587,"K":-0.9},{"V":-2.585,"K":-0.87},{"V":-2.584,"K":-0.85},{"V":-2.582,"K":-0.83},{"V":-2.58,"K":-0.79},{"V":-2.579,"K":-0.78},{"V":-2.577,"K":-0.74},{"V":-2.575,"K":-0.7},{"V":-2.574,"K":-0.68},{"V":-2.572,"K":-0.66},{"V":-2.57,"K":-0.65},{"V":-2.569,"K":-0.64},{"V":-2.567,"K":-0.63},{"V":-2.565,"K":-0.61},{"V":-2.564,"K":-0.6},{"V":-2.562,"K":-0.58},{"V":-2.56,"K":-0.56},{"V":-2.559,"K":-0.55},{"V":-2.557,"K":-0.57},{"V":-2.555,"K":-0.59},{"V":-2.554,"K":-0.61},{"V":-2.552,"K":-0.62},{"V":-2.55,"K":-0.63},{"V":-2.549,"K":-0.65},{"V":-2.547,"K":-0.65},{"V":-2.545,"K":-0.63},{"V":-2.544,"K":-0.59},{"V":-2.542,"K":-0.56},{"V":-2.54,"K":-0.51},{"V":-2.539,"K":-0.48},{"V":-2.537,"K":-0.44},{"V":-2.535,"K":-0.42},{"V":-2.534,"K":-0.4},{"V":-2.532,"K":-0.38},{"V":-2.53,"K":-0.37},{"V":-2.529,"K":-0.35},{"V":-2.527,"K":-0.33},{"V":-2.525,"K":-0.31},{"V":-2.522,"K":-0.3},{"V":-2.519,"K":-0.27},{"V":-2.515,"K":-0.28},{"V":-2.512,"K":-0.25},{"V":-2.509,"K":-0.27},{"V":-2.505,"K":-0.23},{"V":-2.502,"K":-0.25},{"V":-2.499,"K":-0.22},{"V":-2.495,"K":-0.23},{"V":-2.492,"K":-0.2},{"V":-2.489,"K":-0.22},{"V":-2.485,"K":-0.18},{"V":-2.482,"K":-0.2},{"V":-2.479,"K":-0.16},{"V":-2.475,"K":-0.18},{"V":-2.472,"K":-0.14},{"V":-2.469,"K":-0.16},{"V":-2.465,"K":-0.13},{"V":-2.462,"K":-0.14},{"V":-2.459,"K":-0.1},{"V":-2.455,"K":-0.12},{"V":-2.452,"K":-0.09},{"V":-2.449,"K":-0.11},{"V":-2.445,"K":-0.07},{"V":-2.442,"K":-0.1},{"V":-2.439,"K":-0.06},{"V":-2.435,"K":-0.09},{"V":-2.432,"K":-0.05},{"V":-2.429,"K":-0.08},{"V":-2.425,"K":-0.04},{"V":-2.422,"K":-0.07},{"V":-2.419,"K":-0.03},{"V":-2.415,"K":-0.06},{"V":-2.412,"K":-0.04},{"V":-2.409,"K":-0.07},{"V":-2.405,"K":-0.03},{"V":-2.402,"K":-0.06},{"V":-2.399,"K":-0.05}],
"none":[]
},
"hconcat":[
{"vconcat":[
  {"width":124,"height":6,
   "title":{"text":"(a)","dx":-35,"dy":6,"offset":-2},
   "data":{"name":"cbar"},
   "mark":{"type":"rect","binSpacing":0,"strokeWidth":0.6},
   "encoding":{
    "x":{"field":"c","type":"quantitative","bin":{"binned":true,"step":5},"scale":{"domain":[-360,0],"nice":false,"zero":false},
     "axis":{"orient":"top","values":[-360,0],"tickSize":0,"labelPadding":4.5,"labelBaseline":"alphabetic","labelExpr":"replace(datum.label,'−','-')","title":"ϕ (deg)","titleY":-5,"titleBaseline":"alphabetic"}},
    "color":{"field":"c","type":"quantitative","scale":{"scheme":"viridis","domain":[-360,0]},"legend":null},
    "stroke":{"field":"c","type":"quantitative","scale":{"scheme":"viridis","domain":[-360,0]},"legend":null}
   }},
  {"width":124,"height":119,
   "layer":[
    {"data":{"name":"heat"},"mark":{"type":"rect","binSpacing":0,"clip":true,"strokeWidth":0.6},
     "encoding":{
      "x":{"field":"p","type":"quantitative","bin":{"binned":true,"step":1},"title":"Pᵢₙ (dBm)","scale":{"domain":[-115,-100],"nice":false,"zero":false},
       "axis":{"values":[-115,-100],"labelExpr":"replace(datum.label,'−','-')","labelPadding":5,"titleY":16,"titleX":60.5,"titleBaseline":"alphabetic"}},
      "y":{"field":"f","type":"quantitative","bin":{"binned":true,"step":0.005},"title":"f (GHz)","scale":{"domain":[5.7,5.9],"nice":false,"zero":false},
       "axis":{"values":[5.7,5.9],"format":".1f","titleX":-26,"titleBaseline":"middle"}},
      "color":{"field":"v","type":"quantitative","scale":{"scheme":"viridis","domain":[-360,0]},"legend":null},
      "stroke":{"field":"v","type":"quantitative","scale":{"scheme":"viridis","domain":[-360,0]},"legend":null}
     }},
    {"data":{"name":"dots"},"mark":{"type":"circle","size":9,"color":"#d0d8de","opacity":1,"clip":true},
     "encoding":{
      "x":{"field":"p","type":"quantitative","title":"Pᵢₙ (dBm)"},
      "y":{"field":"fr","type":"quantitative","title":"f (GHz)"}
     }}
   ]},
  {"width":124,"height":37,"view":{"stroke":"transparent"},"data":{"name":"none"},"mark":"point","encoding":{}},
  {"width":124,"height":126,
  "title":{"text":"(c)","dx":-34,"offset":18},
  "layer":[
   {"data":{"name":"fit"},"mark":{"type":"line","strokeDash":[3,1.5],"strokeWidth":1,"color":"#3a93c3","clip":true},
    "encoding":{
     "x":{"field":"P","type":"quantitative","title":"P (fW)","scale":{"domain":[-26.75,283.25],"nice":false,"zero":false},
      "axis":{"values":[0,100,200],"labelExpr":"datum.value==100 ? '' : datum.label","labelPadding":1.5,"titleX":49,"titleY":12.3,"titleBaseline":"alphabetic"}},
     "y":{"field":"f","type":"quantitative","title":"fᵣ (GHz)","scale":{"domain":[5.7643,5.8077],"nice":false,"zero":false},
      "axis":{"values":[5.77,5.78,5.79,5.8],"labelExpr":"datum.value > 5.795 ? '5.8' : (datum.value < 5.775 ? '5.77' : '')","titleX":-25,"titleBaseline":"middle"}}
    }},
   {"data":{"name":"frp"},"mark":{"type":"circle","size":16,"color":"#1d2131","opacity":1},
    "encoding":{
     "x":{"field":"P","type":"quantitative","title":"P (fW)"},
     "y":{"field":"f","type":"quantitative","title":"fᵣ (GHz)"}
    }}
  ]}
],"spacing":2,"bounds":"flush","resolve":{"scale":{"color":"independent","stroke":"independent"},"legend":{"color":"independent"}}},
{"vconcat":[
  {"width":123,"height":41,
   "title":{"text":"(b)","dx":-29,"dy":1,"offset":-2},
   "data":{"name":"gam"},
   "mark":{"type":"line","strokeWidth":1},
   "encoding":{
    "x":{"field":"f","type":"quantitative","scale":{"domain":[5.75,5.85],"nice":false,"zero":false},"axis":{"values":[5.75,5.85],"labels":false,"ticks":false,"title":null}},
    "y":{"field":"g","type":"quantitative","scale":{"domain":[0.33,1.2],"nice":false,"zero":false},"axis":{"values":[0.5,1.2],"format":".1f","title":"Γ","titleX":-22,"titleBaseline":"middle"}},
    "color":{"field":"s","type":"nominal","scale":{"domain":["-120 dBm","-108 dBm","-105 dBm"],"range":["#3b3b3b","#3d9bd3","#35a05e"]},"legend":null}
   }},
  {"width":123,"height":82,
   "data":{"name":"phi"},
   "mark":{"type":"line","strokeWidth":1,"interpolate":"monotone"},
   "encoding":{
    "x":{"field":"f","type":"quantitative","scale":{"domain":[5.75,5.85],"nice":false,"zero":false},"axis":{"values":[5.75,5.85],"format":".2f","title":"f (GHz)","titleX":59,"titleY":15,"titleBaseline":"alphabetic","labelPadding":2.5}},
    "y":{"field":"ph","type":"quantitative","scale":{"domain":[-360,0],"nice":false,"zero":false},"axis":{"values":[-360,0],"labelExpr":"replace(datum.label,'−','-')","title":"ϕ (deg)","titleX":-20,"titleBaseline":"middle"}},
    "color":{"field":"s","type":"nominal","scale":{"domain":["-120 dBm","-108 dBm","-105 dBm"],"range":["#3b3b3b","#3d9bd3","#35a05e"]},
     "legend":{"title":null,"orient":"none","legendX":113,"legendY":3,"symbolType":"stroke","symbolSize":64,"symbolStrokeWidth":1.5,"labelAlign":"right","labelOffset":-10.5,"labelFontSize":10,"labelFont":"DejaVu Sans","labelColor":"black","padding":0,"rowPadding":2}}
   }},
  {"width":123,"height":37,"view":{"stroke":"transparent"},"data":{"name":"none"},"mark":"point","encoding":{}},
  {"width":123,"height":128,
  "title":{"text":"(d)","dx":-29,"offset":12},
  "layer":[
   {"data":{"name":"band"},"mark":{"type":"area","color":"#d4e6ef","opacity":1},
    "encoding":{
     "x":{"field":"V","type":"quantitative","title":"Vg (V)","scale":{"domain":[-2.689,-2.38],"nice":false,"zero":false},
      "axis":{"values":[-2.6,-2.5,-2.4],"format":".1f","labelExpr":"(datum.value > -2.55 && datum.value < -2.45) ? '' : replace(datum.label,'−','-')","labelPadding":2.5,"titleX":73,"titleY":13.4,"titleBaseline":"alphabetic"}},
     "y":{"field":"lo","type":"quantitative","title":"K/2π (MHz/fW)","scale":{"domain":[-3.41,0.176],"nice":false,"zero":false},
      "axis":{"values":[-3,-2,-1,0],"labelExpr":"(datum.value == 0 || datum.value == -3) ? replace(datum.label,'−','-') : ''","titleX":-19.5,"titleBaseline":"middle"}},
     "y2":{"field":"hi"}
    }},
   {"data":{"name":"band"},"mark":{"type":"line","color":"#2e8bc0","strokeWidth":1.5,"interpolate":"monotone"},
    "encoding":{"x":{"field":"V","type":"quantitative","title":"Vg (V)"},"y":{"field":"hi","type":"quantitative","title":"K/2π (MHz/fW)"}}},
   {"data":{"name":"band"},"mark":{"type":"line","color":"#2e8bc0","strokeWidth":1.5,"interpolate":"monotone"},
    "encoding":{"x":{"field":"V","type":"quantitative","title":"Vg (V)"},"y":{"field":"lo","type":"quantitative","title":"K/2π (MHz/fW)"}}},
   {"data":{"name":"kerr"},"mark":{"type":"circle","size":5,"color":"#3a3a3a","opacity":1},
    "encoding":{"x":{"field":"V","type":"quantitative","title":"Vg (V)"},"y":{"field":"K","type":"quantitative","title":"K/2π (MHz/fW)"}}}
  ]}
],"spacing":2,"bounds":"flush","resolve":{"scale":{"color":"independent"},"legend":{"color":"independent"}}}
],
"spacing":0,
"resolve":{"scale":{"color":"independent","stroke":"independent"},"legend":{"color":"independent"}}
}
